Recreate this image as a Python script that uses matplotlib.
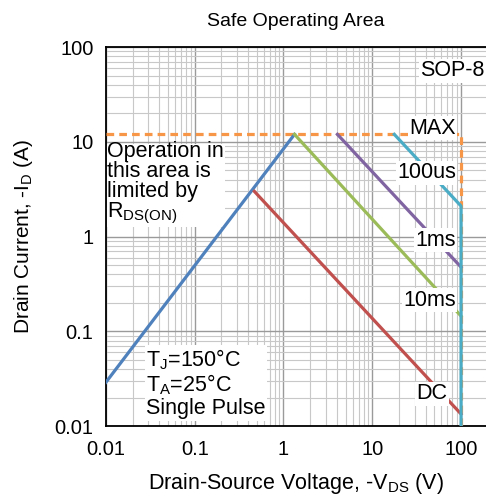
import matplotlib
matplotlib.use("Agg")
import matplotlib.pyplot as plt
from matplotlib.ticker import FixedLocator, LogLocator, NullFormatter

plt.rcParams['font.family'] = ['Liberation Sans', 'DejaVu Sans']
plt.rcParams['mathtext.fontset'] = 'custom'
plt.rcParams['mathtext.rm'] = 'Liberation Sans'
plt.rcParams['mathtext.it'] = 'Liberation Sans:italic'

# datos
max_x = [0.01, 100, 100]
max_y = [12, 12, 0.01]
rds_x = [0.01, 1.33]
rds_y = [0.029, 12]
dc_x = [0.47, 100]
dc_y = [3.0, 0.0134]
ms10_x = [1.33, 100]
ms10_y = [12, 0.145]
ms1_x = [4.05, 100]
ms1_y = [12, 0.476]
us100_x = [17.7, 100, 100]
us100_y = [12, 2.1, 0.01]

xticks = [0.01, 0.1, 1, 10, 100]
xlabels = ['0.01', '0.1', '1', '10', '100']
yticks = [0.01, 0.1, 1, 10, 100]
ylabels = ['0.01', '0.1', '1', '10', '100']

fig = plt.figure(figsize=(4.86, 4.96), dpi=100)
ax = fig.add_axes([0.218, 0.141, 0.782, 0.764])

lw = 2.3
ax.plot(max_x, max_y, color='#F79646', lw=lw, ls=(0, (2.4, 1.6)), zorder=3)
ax.plot(rds_x, rds_y, color='#4F81BD', lw=lw, zorder=4)
ax.plot(dc_x, dc_y, color='#C0504D', lw=lw, zorder=4)
ax.plot(ms10_x, ms10_y, color='#9BBB59', lw=lw, zorder=4)
ax.plot(ms1_x, ms1_y, color='#8064A2', lw=lw, zorder=4)
ax.plot(us100_x, us100_y, color='#4BACC6', lw=lw, zorder=5)

ax.set_xscale('log')
ax.set_yscale('log')
ax.set_xlim(0.01, 191)
ax.set_ylim(0.01, 100)

ax.xaxis.set_major_locator(FixedLocator(xticks))
ax.set_xticklabels(xlabels)
ax.yaxis.set_major_locator(FixedLocator(yticks))
ax.set_yticklabels(ylabels)
ax.xaxis.set_minor_locator(LogLocator(base=10, subs=range(2, 10), numticks=20))
ax.yaxis.set_minor_locator(LogLocator(base=10, subs=range(2, 10), numticks=20))
ax.xaxis.set_minor_formatter(NullFormatter())
ax.yaxis.set_minor_formatter(NullFormatter())
ax.tick_params(which='both', length=0, labelsize=14.5)
ax.tick_params(axis='x', pad=10)
ax.tick_params(axis='y', pad=9)

ax.grid(which='major', color='#9a9a9a', lw=1.0)
ax.grid(which='minor', color='#c8c8c8', lw=0.8)
ax.set_axisbelow(True)
ax.spines['right'].set_visible(False)
for s in ['left', 'top', 'bottom']:
    ax.spines[s].set_linewidth(1.3)

ax.set_title('Safe Operating Area', fontsize=14, pad=15)
ax.set_xlabel('Drain-Source Voltage, -V$_\\mathrm{DS}$ (V)', fontsize=15.5, labelpad=9)
ax.set_ylabel('Drain Current, -I$_\\mathrm{D}$ (A)', fontsize=15, labelpad=14)

box = dict(facecolor='white', edgecolor='none', pad=1)
fs = 15.5
ax.text(0.997, 0.937, 'SOP-8', transform=ax.transAxes, ha='right', va='center', fontsize=fs, bbox=box, zorder=6)
ax.text(88, 14, 'MAX', fontsize=fs, ha='right', va='center', bbox=box, zorder=6)
ax.text(88, 4.7, '100us', fontsize=fs, ha='right', va='center', bbox=box, zorder=6)
ax.text(88, 0.92, '1ms', fontsize=fs, ha='right', va='center', bbox=box, zorder=6)
ax.text(88, 0.214, '10ms', fontsize=fs, ha='right', va='center', bbox=box, zorder=6)
ax.text(70, 0.0218, 'DC', fontsize=fs, ha='right', va='center', bbox=box, zorder=6)
ax.text(0.0104, 10.3, 'Operation in\nthis area is\nlimited by\nR$_\\mathrm{DS(ON)}$', fontsize=fs,
        ha='left', va='top', linespacing=0.95, bbox=dict(facecolor='white', edgecolor='none', pad=0.5),
        zorder=3.5)
ax.text(0.0282, 0.0118, 'T$_\\mathrm{J}$=150°C\nT$_\\mathrm{A}$=25°C\nSingle Pulse', fontsize=fs,
        ha='left', va='bottom', linespacing=1.05, bbox=box, zorder=6)

fig.savefig('out.png', dpi=100)
